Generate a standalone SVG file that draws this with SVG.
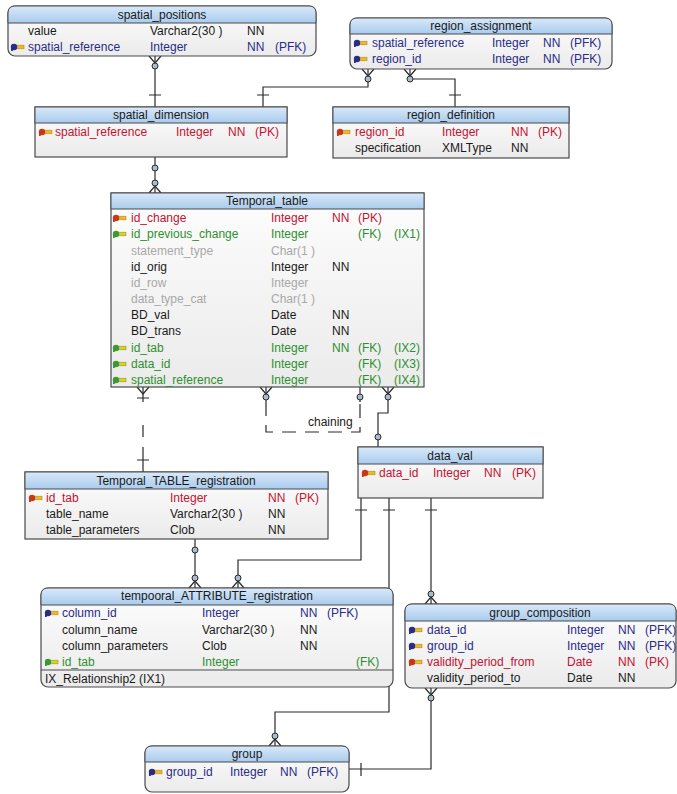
<svg xmlns="http://www.w3.org/2000/svg" width="677" height="794" viewBox="0 0 677 794">
<style>
text{font-family:"Liberation Sans",Arial,sans-serif;font-size:12px}
.ttl{text-anchor:middle;fill:#1a1a1a}
.pk{fill:#c41230}.fk{fill:#2f8f2f}.pfk{fill:#2b2b88}.gr{fill:#a8a8a8}.bk{fill:#1a1a1a}
.hdr{fill:url(#hg);stroke:#4a4a4a;stroke-width:1}
.body{fill:url(#bg);stroke:#4a4a4a;stroke-width:1.2}
.sep{stroke:#4a4a4a;stroke-width:1}
.ln{fill:none;stroke:#2a2a2a;stroke-width:1.2}
.dash{fill:none;stroke:#2a2a2a;stroke-width:1.2;stroke-dasharray:14 9}
.cir{fill:#a9bccf;stroke:#2a2a2a;stroke-width:1}
</style>
<defs>
<linearGradient id="hg" x1="0" y1="0" x2="0" y2="1"><stop offset="0" stop-color="#d9e9f9"/><stop offset="1" stop-color="#a9cbee"/></linearGradient>
<linearGradient id="bg" x1="0" y1="0" x2="0" y2="1"><stop offset="0" stop-color="#fdfdfd"/><stop offset="1" stop-color="#ebebeb"/></linearGradient>
<g id="kpk"><rect x="4" y="-1.8" width="9" height="3.6" fill="#e9b934" stroke="#b88a10" stroke-width="0.6"/><circle cx="3" cy="0" r="3.2" fill="#c8361c"/><rect x="0" y="0" width="1.8" height="4" fill="#c8361c"/></g>
<g id="kpfk"><rect x="4" y="-1.8" width="9" height="3.6" fill="#e9b934" stroke="#b88a10" stroke-width="0.6"/><circle cx="3" cy="0" r="3.2" fill="#2b2b88"/><rect x="0" y="0" width="1.8" height="4" fill="#2b2b88"/></g>
<g id="kfk"><rect x="4" y="-1.8" width="9" height="3.6" fill="#d8d030" stroke="#9a9a10" stroke-width="0.6"/><circle cx="3" cy="0" r="3.2" fill="#3a9a3a"/><rect x="0" y="0" width="1.8" height="4" fill="#3a9a3a"/></g>
</defs>
<rect width="677" height="794" fill="#ffffff"/>

<g id="connectors">
<path class="ln" d="M155,56 V107"/>
<path class="ln" d="M368,69 V87 H263 V107"/>
<path class="ln" d="M410,69 V79 H455 V107"/>
<path class="ln" d="M155,157 V193"/>
<path class="ln" d="M143,387 V402 M143,425 V437 M143,447 V472"/>
<path class="ln" d="M266,387 V402 M360,387 V402"/>
<path class="dash" d="M266,402 V432 H360 V402"/>
<path class="ln" d="M388,387 V413 H378 V447"/>
<path class="ln" d="M361,498 V560 H238 V588"/>
<path class="ln" d="M195,539 V588"/>
<path class="ln" d="M389,498 V712 H275 V746"/>
<path class="ln" d="M431,498 V604"/>
<path class="ln" d="M431,688 V769 H349"/>
<path class="ln" d="M149,56 L155,63 L161,56 M362,69 L368,76 L374,69 M404,69 L410,76 L416,69 M149,193 L155,186 L161,193 M137,387 L143,394 L149,387 M260,387 L266,394 L272,387 M382,387 L388,394 L394,387 M189,588 L195,581 L201,588 M232,588 L238,581 L244,588 M425,604 L431,597 L437,604 M425,688 L431,695 L437,688 M269,746 L275,739 L281,746"/>
<path class="ln" d="M149,95 H161 M257,95 H269 M449,95 H461 M137,398 H149 M137,460 H149 M355,510 H367 M383,510 H395 M425,510 H437 M361,763 V776"/>
<circle class="cir" cx="155" cy="66" r="3"/>
<circle class="cir" cx="368" cy="79" r="3"/>
<circle class="cir" cx="410" cy="79" r="3"/>
<circle class="cir" cx="155" cy="168" r="3"/>
<circle class="cir" cx="155" cy="183" r="3"/>
<circle class="cir" cx="266" cy="397" r="3"/>
<circle class="cir" cx="360" cy="397" r="3"/>
<circle class="cir" cx="388" cy="397" r="3"/>
<circle class="cir" cx="378" cy="437" r="3"/>
<circle class="cir" cx="195" cy="550" r="3"/>
<circle class="cir" cx="195" cy="578" r="3"/>
<circle class="cir" cx="238" cy="578" r="3"/>
<circle class="cir" cx="431" cy="594" r="3"/>
<circle class="cir" cx="431" cy="698" r="3"/>
<circle class="cir" cx="275" cy="736" r="3"/>
<text x="308" y="426" class="bk">chaining</text>
</g>

<g id="spatial_positions">
<rect class="body" x="8" y="6" width="308" height="50" rx="7"/>
<path class="hdr" d="M8,23 V13 Q8,6 15,6 H309 Q316,6 316,13 V23 Z"/>
<text x="162" y="19" class="ttl">spatial_positions</text>
<text x="28" y="35" class="bk">value</text><text x="150" y="35" class="bk">Varchar2(30 )</text><text x="247" y="35" class="bk">NN</text>
<use href="#kpfk" x="11" y="47"/>
<text x="28" y="51" class="pfk">spatial_reference</text><text x="150" y="51" class="pfk">Integer</text><text x="247" y="51" class="pfk">NN</text><text x="275" y="51" class="pfk">(PFK)</text>
</g>

<g id="region_assignment">
<rect class="body" x="350" y="18" width="262" height="51" rx="7"/>
<path class="hdr" d="M350,34 V25 Q350,18 357,18 H605 Q612,18 612,25 V34 Z"/>
<text x="481" y="30" class="ttl">region_assignment</text>
<use href="#kpfk" x="354" y="43"/>
<text x="372" y="47" class="pfk">spatial_reference</text><text x="492" y="47" class="pfk">Integer</text><text x="543" y="47" class="pfk">NN</text><text x="570" y="47" class="pfk">(PFK)</text>
<use href="#kpfk" x="354" y="59"/>
<text x="372" y="63" class="pfk">region_id</text><text x="492" y="63" class="pfk">Integer</text><text x="543" y="63" class="pfk">NN</text><text x="570" y="63" class="pfk">(PFK)</text>
</g>

<g id="spatial_dimension">
<rect class="body" x="35" y="107" width="252" height="50"/>
<rect class="hdr" x="35" y="107" width="252" height="16"/>
<text x="161" y="119" class="ttl">spatial_dimension</text>
<use href="#kpk" x="39" y="132"/>
<text x="55" y="136" class="pk">spatial_reference</text><text x="176" y="136" class="pk">Integer</text><text x="228" y="136" class="pk">NN</text><text x="255" y="136" class="pk">(PK)</text>
</g>

<g id="region_definition">
<rect class="body" x="333" y="107" width="236" height="51"/>
<rect class="hdr" x="333" y="107" width="236" height="16"/>
<text x="451" y="119" class="ttl">region_definition</text>
<use href="#kpk" x="337" y="132"/>
<text x="355" y="136" class="pk">region_id</text><text x="442" y="136" class="pk">Integer</text><text x="511" y="136" class="pk">NN</text><text x="538" y="136" class="pk">(PK)</text>
<text x="355" y="152" class="bk">specification</text><text x="442" y="152" class="bk">XMLType</text><text x="511" y="152" class="bk">NN</text>
</g>

<g id="Temporal_table">
<rect class="body" x="111" y="193" width="313" height="194"/>
<rect class="hdr" x="111" y="193" width="313" height="16"/>
<text x="267" y="205" class="ttl">Temporal_table</text>
<use href="#kpk" x="113" y="218"/>
<text x="131" y="222" class="pk">id_change</text><text x="271" y="222" class="pk">Integer</text><text x="332" y="222" class="pk">NN</text><text x="358" y="222" class="pk">(PK)</text>
<use href="#kfk" x="113" y="234"/>
<text x="131" y="238" class="fk">id_previous_change</text><text x="271" y="238" class="fk">Integer</text><text x="358" y="238" class="fk">(FK)</text><text x="394" y="238" class="fk">(IX1)</text>
<text x="131" y="255" class="gr">statement_type</text><text x="271" y="255" class="gr">Char(1 )</text>
<text x="131" y="271" class="bk">id_orig</text><text x="271" y="271" class="bk">Integer</text><text x="332" y="271" class="bk">NN</text>
<text x="131" y="287" class="gr">id_row</text><text x="271" y="287" class="gr">Integer</text>
<text x="131" y="303" class="gr">data_type_cat</text><text x="271" y="303" class="gr">Char(1 )</text>
<text x="131" y="319" class="bk">BD_val</text><text x="271" y="319" class="bk">Date</text><text x="332" y="319" class="bk">NN</text>
<text x="131" y="335" class="bk">BD_trans</text><text x="271" y="335" class="bk">Date</text><text x="332" y="335" class="bk">NN</text>
<use href="#kfk" x="113" y="348"/>
<text x="131" y="352" class="fk">id_tab</text><text x="271" y="352" class="fk">Integer</text><text x="332" y="352" class="fk">NN</text><text x="358" y="352" class="fk">(FK)</text><text x="394" y="352" class="fk">(IX2)</text>
<use href="#kfk" x="113" y="364"/>
<text x="131" y="368" class="fk">data_id</text><text x="271" y="368" class="fk">Integer</text><text x="358" y="368" class="fk">(FK)</text><text x="394" y="368" class="fk">(IX3)</text>
<use href="#kfk" x="113" y="380"/>
<text x="131" y="384" class="fk">spatial_reference</text><text x="271" y="384" class="fk">Integer</text><text x="358" y="384" class="fk">(FK)</text><text x="394" y="384" class="fk">(IX4)</text>
</g>

<g id="data_val">
<rect class="body" x="358" y="447" width="185" height="51"/>
<rect class="hdr" x="358" y="447" width="185" height="17"/>
<text x="450" y="460" class="ttl">data_val</text>
<use href="#kpk" x="362" y="473"/>
<text x="379" y="477" class="pk">data_id</text><text x="433" y="477" class="pk">Integer</text><text x="484" y="477" class="pk">NN</text><text x="512" y="477" class="pk">(PK)</text>
</g>

<g id="Temporal_TABLE_registration">
<rect class="body" x="25" y="472" width="303" height="67"/>
<rect class="hdr" x="25" y="472" width="303" height="17"/>
<text x="176" y="485" class="ttl">Temporal_TABLE_registration</text>
<use href="#kpk" x="29" y="498"/>
<text x="46" y="502" class="pk">id_tab</text><text x="170" y="502" class="pk">Integer</text><text x="268" y="502" class="pk">NN</text><text x="295" y="502" class="pk">(PK)</text>
<text x="46" y="518" class="bk">table_name</text><text x="170" y="518" class="bk">Varchar2(30 )</text><text x="268" y="518" class="bk">NN</text>
<text x="46" y="534" class="bk">table_parameters</text><text x="170" y="534" class="bk">Clob</text><text x="268" y="534" class="bk">NN</text>
</g>

<g id="tempooral_ATTRIBUTE_registration">
<rect class="body" x="41" y="588" width="352" height="99" rx="7"/>
<path class="hdr" d="M41,605 V595 Q41,588 48,588 H386 Q393,588 393,595 V605 Z"/>
<text x="217" y="600" class="ttl">tempooral_ATTRIBUTE_registration</text>
<use href="#kpfk" x="45" y="613"/>
<text x="62" y="617" class="pfk">column_id</text><text x="202" y="617" class="pfk">Integer</text><text x="300" y="617" class="pfk">NN</text><text x="327" y="617" class="pfk">(PFK)</text>
<text x="62" y="634" class="bk">column_name</text><text x="202" y="634" class="bk">Varchar2(30 )</text><text x="300" y="634" class="bk">NN</text>
<text x="62" y="650" class="bk">column_parameters</text><text x="202" y="650" class="bk">Clob</text><text x="300" y="650" class="bk">NN</text>
<use href="#kfk" x="45" y="662"/>
<text x="62" y="666" class="fk">id_tab</text><text x="202" y="666" class="fk">Integer</text><text x="356" y="666" class="fk">(FK)</text>
<line class="sep" x1="41" y1="670" x2="393" y2="670"/>
<text x="45" y="683" class="bk">IX_Relationship2 (IX1)</text>
</g>

<g id="group_composition">
<rect class="body" x="405" y="604" width="271" height="84" rx="7"/>
<path class="hdr" d="M405,621 V611 Q405,604 412,604 H669 Q676,604 676,611 V621 Z"/>
<text x="540" y="617" class="ttl">group_composition</text>
<use href="#kpfk" x="409" y="630"/>
<text x="427" y="634" class="pfk">data_id</text><text x="567" y="634" class="pfk">Integer</text><text x="618" y="634" class="pfk">NN</text><text x="645" y="634" class="pfk">(PFK)</text>
<use href="#kpfk" x="409" y="646"/>
<text x="427" y="650" class="pfk">group_id</text><text x="567" y="650" class="pfk">Integer</text><text x="618" y="650" class="pfk">NN</text><text x="645" y="650" class="pfk">(PFK)</text>
<use href="#kpk" x="409" y="662"/>
<text x="427" y="666" class="pk">validity_period_from</text><text x="567" y="666" class="pk">Date</text><text x="618" y="666" class="pk">NN</text><text x="645" y="666" class="pk">(PK)</text>
<text x="427" y="682" class="bk">validity_period_to</text><text x="567" y="682" class="bk">Date</text><text x="618" y="682" class="bk">NN</text>
</g>

<g id="group">
<rect class="body" x="145" y="746" width="204" height="46" rx="7"/>
<path class="hdr" d="M145,762 V753 Q145,746 152,746 H342 Q349,746 349,753 V762 Z"/>
<text x="247" y="758" class="ttl">group</text>
<use href="#kpfk" x="149" y="772"/>
<text x="166" y="776" class="pfk">group_id</text><text x="230" y="776" class="pfk">Integer</text><text x="280" y="776" class="pfk">NN</text><text x="307" y="776" class="pfk">(PFK)</text>
</g>
</svg>
